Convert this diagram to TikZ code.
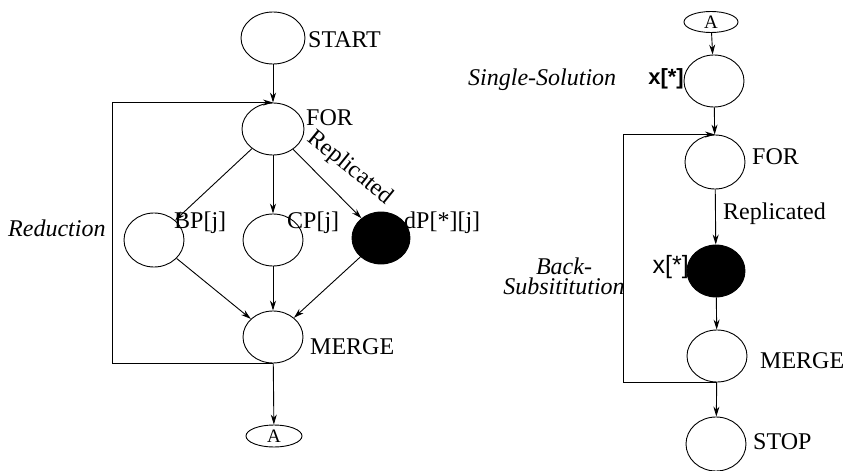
\documentclass[tikz,border=0pt]{standalone}
\usepackage{fontspec}
\setmainfont{Liberation Serif}
\newfontfamily\lsans{Liberation Sans}
\usetikzlibrary{shapes.geometric,arrows.meta}
\tikzset{
  task/.style={ellipse, draw, line width=0.9pt, inner sep=0pt,
               minimum width=60pt, minimum height=52pt},
  solid task/.style={task, fill=black},
  link/.style={ellipse, draw, line width=0.9pt, inner sep=0pt,
               minimum width=56pt, minimum height=22pt,
               font=\fontsize{19}{20}\selectfont},
  lbl/.style={anchor=west, inner sep=0pt, font=\fontsize{24}{26}\selectfont},
  note/.style={inner sep=0pt, font=\fontsize{24}{20}\selectfont\itshape},
  arr/.style={-{Stealth[length=10pt,width=6pt]}, line width=0.9pt},
}
\begin{document}
\begin{tikzpicture}[x=1pt, y=-1pt]
\useasboundingbox (0,0) rectangle (855,471);

% ---------- left graph ----------
\node[task, minimum width=64pt] (start) at (273,38) {};
\node[task, minimum width=62pt] (for) at (273,129) {};
\node[task, minimum height=54pt] (bp) at (154,240) {};
\node[task] (cp) at (273,240) {};
\node[solid task, minimum width=58pt] (dp) at (381,238) {};
\node[task] (merge) at (273,337) {};
\node[link] (aout) at (274,436) {A};

\node[lbl] (tstart) at (308,40) {START};
\node[lbl] (tfor) at (306,118) {FOR};
\node[lbl] (tbp) at (174,223) {BP[j]};
\node[lbl] (tcp) at (287,223) {CP[j]};
\node[lbl] (tdp) at (404,223) {dP[*][j]};
\node[lbl] (tmerge) at (310,347) {MERGE};
\node[note, anchor=west] (tred) at (8,228) {Reduction};
\node[inner sep=0pt, font=\fontsize{24}{26}\selectfont, rotate=-39]
  (trep) at (350,168) {Replicated};

\draw[arr] (start) -- (for);
\draw[arr] (for) -- (bp);
\draw[arr] (for) -- (cp);
\draw[arr] (for) -- (dp);
\draw[arr] (bp) -- (merge);
\draw[arr] (cp) -- (merge);
\draw[arr] (dp) -- (merge);
\draw[arr] (merge) -- (aout);
\coordinate (loopL) at (112,250);
\draw[arr] (merge.south) -- (merge.south -| loopL) |- (for.north);

% ---------- right graph ----------
\node[link, minimum width=54pt, minimum height=21pt] (ain) at (711,22) {A};
\node[task] (xone) at (714,81) {};
\node[task, minimum height=54pt] (for2) at (715,162) {};
\node[solid task, minimum width=58pt] (xall) at (716,271) {};
\node[task] (merge2) at (717,356) {};
\node[task, minimum height=54pt] (stop) at (716,444) {};

\node[inner sep=0pt, anchor=east, font=\fontsize{22}{24}\selectfont\lsans\bfseries]
  (txone) at (684,79) {x[*]};
\node[inner sep=0pt, anchor=east, font=\fontsize{25}{26}\selectfont\lsans]
  (txall) at (689,267) {x[*]};
\node[note, anchor=west] (tsingle) at (468,80) {Single-Solution};
\node[note, align=center] (tback) at (564,276) {Back-\\Subsititution};
\node[lbl] (tfor2) at (752,157) {FOR};
\node[lbl] (trep2) at (723,214) {Replicated};
\node[lbl] (tmerge2) at (760,361) {MERGE};
\node[lbl] (tstop) at (753,442) {STOP};

\draw[arr] (ain) -- (xone);
\draw[arr] (xone) -- (for2);
\draw[arr] (for2) -- (xall);
\draw[arr] (xall) -- (merge2);
\draw[arr] (merge2) -- (stop);
\coordinate (loopR) at (623,250);
\draw[arr] (merge2.south) -- (merge2.south -| loopR) |- (for2.north);
\end{tikzpicture}
\end{document}
